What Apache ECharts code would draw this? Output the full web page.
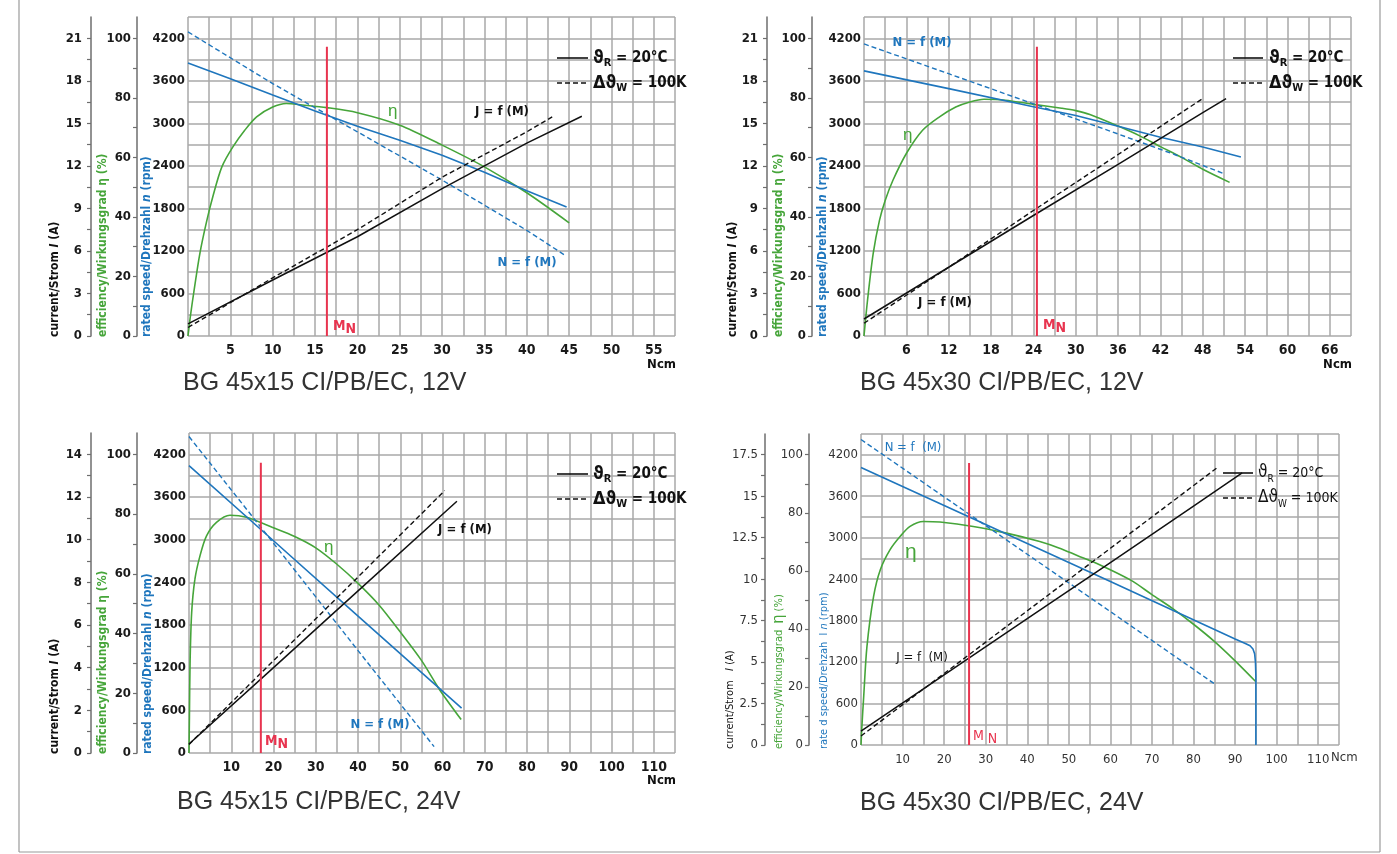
<!DOCTYPE html>
<html><head><meta charset="utf-8">
<script src="https://cdn.jsdelivr.net/npm/echarts@6/dist/echarts.min.js"></script>
<style>html,body{margin:0;padding:0;background:#fff}#c{width:1397px;height:854px}</style>
</head><body><div id="c"></div>
<script>
// ---------- DATA (torque Ncm -> speed rpm / current A / efficiency %) ----------
// Panel 1: BG 45x15 CI/PB/EC, 12V
const p1Speed      = [[0,3850],[5,3630],[10,3400],[15,3175],[20,2960],[25,2760],[30,2550],[35,2310],[40,2050],[44.7,1820]];
const p1SpeedHot   = [[0,4290],[10,3560],[20,2880],[30,2200],[40,1490],[44.5,1140]];
const p1Current    = [[0,0.85],[10,3.95],[20,7.0],[30,10.4],[40,13.6],[46.5,15.5]];
const p1CurrentHot = [[0,0.6],[10,4.1],[20,7.5],[30,11.2],[40,14.4],[43,15.45]];
const p1Eff        = [[0,0],[0.3,7],[0.7,15],[1.4,27.7],[2.2,38.5],[3,47.5],[4,56.8],[5.3,63.5],[6.7,69.1],[8.1,73.6],[10,76.9],[11.6,78.1],[13.5,77.6],[16.4,76.7],[20,75],[25,70.8],[30,64.1],[35,56.8],[40,48.1],[45,38]];
const p1Rated      = [[16.4,0],[16.4,4080]];
// Panel 2: BG 45x30 CI/PB/EC, 12V
const p2Speed      = [[0,3740],[12,3490],[24,3235],[30,3110],[36,2960],[42,2805],[48,2665],[53.4,2525]];
const p2SpeedHot   = [[0,4120],[12,3700],[24,3275],[36,2850],[44,2560],[51,2290]];
const p2Current    = [[0,1.2],[12,4.85],[24,8.5],[36,12.1],[48,15.75],[51.3,16.75]];
const p2CurrentHot = [[0,0.9],[12,4.85],[24,8.85],[36,12.8],[48,16.75]];
const p2Eff        = [[0,0],[0.5,12],[1.3,27.7],[2.2,38.9],[3,45.5],[4.1,52.3],[6,61.3],[8.3,69.1],[10.7,73.6],[13,76.9],[15,78.6],[17,79.5],[20,79.2],[24,77.8],[28,76.5],[30,75.7],[32,74.4],[36,70.5],[39,67.3],[42,63.6],[45,60],[48,56],[51.8,51.6]];
const p2Rated      = [[24.5,0],[24.5,4080]];
// Panel 3: BG 45x15 CI/PB/EC, 24V
const p3Speed      = [[0,4040],[20,2985],[40,1925],[64.5,630]];
const p3SpeedHot   = [[0,4450],[20,2950],[40,1440],[58,90]];
const p3Current    = [[0,0.42],[20,4.0],[40,7.6],[63.4,11.8]];
const p3CurrentHot = [[0,0.4],[20,4.33],[40,8.25],[60.5,12.3]];
const p3Eff        = [[0,0],[0.1,12],[0.25,30],[0.63,47],[1.4,58.2],[2.6,66],[4.15,72.7],[6.5,77.2],[9.7,79.6],[13.6,78.9],[19.8,75.5],[25,72.5],[30,68.7],[35,63.2],[40,56.8],[45,49.5],[49.5,41.4],[55,31],[59.3,21.2],[64.4,11.2]];
const p3Rated      = [[17,0],[17,4080]];
// Panel 4: BG 45x30 CI/PB/EC, 24V
const p4Speed      = [[0,4015],[20,3465],[40,2915],[60,2365],[75,1950],[90,1535],[92.6,1465],[93.6,1435],[94.3,1390],[94.7,1320],[94.9,1200],[95,1000],[95,0]];
const p4SpeedHot   = [[0,4420],[20,3590],[40,2760],[60,1930],[85.4,870]];
const p4Current    = [[0,0.84],[20,4.23],[40,7.62],[60,11.0],[80,14.4],[91.7,16.4]];
const p4CurrentHot = [[0,0.54],[20,4.31],[40,8.09],[60,11.86],[85.6,16.7]];
const p4Eff        = [[0,0],[0.2,6],[0.65,16.7],[1.43,33.9],[3.03,51.2],[4.65,60.4],[7,67.3],[9.45,71.9],[11.8,75.3],[15,77],[19,76.8],[27,75.3],[35,73],[43,70.1],[47.6,67.9],[52,65.3],[57.4,62.1],[65,56.7],[70,51.8],[75,47],[80,41.6],[85,35.7],[90,29],[95,21.8]];
const p4Rated      = [[26,0],[26,4080]];

// tick label settings (value steps)
const titles = ['BG 45x15 CI/PB/EC, 12V','BG 45x30 CI/PB/EC, 12V','BG 45x15 CI/PB/EC, 24V','BG 45x30 CI/PB/EC, 24V'];
const xLabelSteps   = [5, 6, 10, 10];
const xGridSteps    = [2.5, 3, 5, 5];
const xMaxima       = [57.5, 69, 115, 115];
const currentLabelSteps = [3, 3, 2, 2.5];
const currentTopLabels  = [21, 21, 14, 17.5];   // current value at the 4200 rpm line
const speedLabelStep = 600, speedTopLabel = 4200, speedMax = 4500;
const effLabelStep = 20, effTopLabel = 100;

// ---------- STYLE / LAYOUT ----------
const FONT = '"DejaVu Sans Condensed","Liberation Sans Narrow","Arial Narrow",sans-serif';
const SFONT = '"Liberation Sans",Arial,Helvetica,sans-serif';
const BLUE = '#1f76bd', GREEN = '#46a53a', RED = '#e8344f', BLACK = '#111111';
const GRIDC = '#a9a9a9', AXC = '#6e6e6e';

const layout = [
  {g:[188,17,487,319], offE:51, offC:97, light:false, tx:[55,103,147], tb:337},
  {g:[864,17,487,319], offE:52, offC:97, light:false, tx:[733,779,823], tb:337},
  {g:[189,433,486,320], offE:52, offC:98, light:false, tx:[55,103,148], tb:754},
  {g:[861,434,478,311], offE:52, offC:96, light:true,  tx:[730,779,824], tb:749}
];
const panelData = [
  [p1Speed,p1SpeedHot,p1Current,p1CurrentHot,p1Eff,p1Rated],
  [p2Speed,p2SpeedHot,p2Current,p2CurrentHot,p2Eff,p2Rated],
  [p3Speed,p3SpeedHot,p3Current,p3CurrentHot,p3Eff,p3Rated],
  [p4Speed,p4SpeedHot,p4Current,p4CurrentHot,p4Eff,p4Rated]
];

function fmtStep(step, maxV, skipZero){
  return function(v){
    const k = v/step;
    if (Math.abs(k-Math.round(k))>1e-6) return '';
    if (v>maxV+1e-6) return '';
    if (skipZero && Math.abs(v)<1e-9) return '';
    return String(Math.round(v*100)/100);
  };
}
function range(a,b,s){const r=[];for(let v=a;v<=b+1e-9;v+=s)r.push(Math.round(v*1000)/1000);return r;}

const grid=[], xAxis=[], yAxis=[], series=[];
layout.forEach((p,i)=>{
  const lab = {fontFamily:FONT, fontSize:13, fontWeight:p.light?'normal':'bold', color:p.light?'#333':'#1a1a1a'};
  const xlab = Object.assign({}, lab, {fontSize:p.light?13:14});
  const effMax = effTopLabel*speedMax/speedTopLabel;
  const cTop = currentTopLabels[i];
  const cMax = cTop*speedMax/speedTopLabel;
  const cStep = currentLabelSteps[i]/2;
  grid.push({left:p.g[0], top:p.g[1], width:p.g[2], height:p.g[3], containLabel:false, outerBoundsMode:'none'});
  xAxis.push({type:'value', gridIndex:i, min:0, max:xMaxima[i], interval:xGridSteps[i],
    axisLine:{show:false}, axisTick:{show:false},
    axisLabel:Object.assign({}, xlab, {margin:p.light?8:7, formatter:fmtStep(xLabelSteps[i], xMaxima[i], true)}),
    splitLine:{show:true, lineStyle:{color:GRIDC, width:1.5}}});
  yAxis.push({type:'value', gridIndex:i, position:'left', min:0, max:speedMax, interval:300,
    axisLine:{show:false}, axisTick:{show:false},
    axisLabel:Object.assign({}, lab, {margin:3, formatter:fmtStep(speedLabelStep, speedTopLabel, false)}),
    splitLine:{show:true, lineStyle:{color:GRIDC, width:1.5}}});
  yAxis.push({type:'value', gridIndex:i, position:'left', offset:p.offE, min:0, max:effMax, interval:10,
    axisLine:{show:true, lineStyle:{color:AXC, width:1.5}},
    axisTick:{show:true, length:4, lineStyle:{color:AXC, width:1.2}, customValues:range(0,100,10)},
    axisLabel:Object.assign({}, lab, {margin:6, formatter:fmtStep(effLabelStep, effTopLabel, false)}),
    splitLine:{show:false}});
  yAxis.push({type:'value', gridIndex:i, position:'left', offset:p.offC, min:0, max:cMax, interval:cStep,
    axisLine:{show:true, lineStyle:{color:AXC, width:1.5}},
    axisTick:{show:true, length:4, lineStyle:{color:AXC, width:1.2}, customValues:range(0,cTop,cStep)},
    axisLabel:Object.assign({}, lab, {margin:p.light?7:9, formatter:fmtStep(currentLabelSteps[i], cTop, false)}),
    splitLine:{show:false}});
  const d = panelData[i];
  const mk = (yi, data, color, dash, smooth, w, z) => ({type:'line', xAxisIndex:i, yAxisIndex:3*i+yi, data:data,
      showSymbol:false, symbol:'none', smooth:smooth||false, silent:true, animation:false, z:z||2,
      lineStyle:{color:color, width:w||1.6, type:dash?[5,3]:'solid'}});
  series.push(mk(1, d[4], GREEN, false, 0.3, 1.6, 2));
  series.push(mk(0, d[0], BLUE, false, false, 1.6, 3));
  series.push(mk(0, d[1], BLUE, true, false, 1.4, 3));
  series.push(mk(2, d[2], BLACK, false, false, 1.5, 3));
  series.push(mk(2, d[3], BLACK, true, false, 1.4, 3));
  series.push(mk(0, d[5], RED, false, false, 2, 4));
});

// ---------- GRAPHIC TEXT / DECORATION ----------
const G = [];
function T(x,y,text,o){
  o=o||{};
  const st = Object.assign({text:text, fill:o.fill||'#111', fontFamily:o.ff||FONT, fontSize:o.fs||14, fontWeight:o.fw||'bold',
    align:o.al||'left', verticalAlign:'middle', textAlign:o.al||'left', textVerticalAlign:'middle'}, o.style||{});
  if (o.rich) st.rich = o.rich;
  G.push({type:'text', x:x, y:y, rotation:o.rot||0, silent:true, z:100, style:st});
}
function Ln(x1,y1,x2,y2,color,w,dash){
  G.push({type:'line', silent:true, z:100, shape:{x1,y1,x2,y2}, style:{stroke:color, lineWidth:w, lineDash:dash||null}});
}
// frame
Ln(19,0,19,852,'#9a9a9a',1.2); Ln(19,852,1380,852,'#9a9a9a',1.2); Ln(1380,0,1380,852,'#9a9a9a',1.2);

// subtitles
T(183,383,titles[0],{ff:SFONT,fs:25,fw:'normal',fill:'#333'});
T(860,383,titles[1],{ff:SFONT,fs:25,fw:'normal',fill:'#333'});
T(177,802,titles[2],{ff:SFONT,fs:25,fw:'normal',fill:'#333'});
T(860,803,titles[3],{ff:SFONT,fs:25,fw:'normal',fill:'#333'});

// rotated axis titles
const R90 = Math.PI/2;
function axisTitles(xc, xe, xs, yb, light){
  const fw = light?'normal':'bold', fs = light?11:12;
  const it = {fontStyle:'italic', fontFamily:FONT, fontSize:fs, fontWeight:fw};
  T(xc,yb, light?'current/Strom   {i|I} (A)':'current/Strom {i|I} (A)', {rot:R90, fs:fs, fw:fw, fill:'#111', rich:{i:Object.assign({fill:'#111'},it)}});
  T(xe,yb, light?'efficiency/Wirkungsgrad  {e|η} (%)':'efficiency/Wirkungsgrad η (%)', {rot:R90, fs:fs, fw:fw, fill:GREEN,
     rich:{e:{fontFamily:SFONT, fontSize:light?16:fs, fill:GREEN}}});
  T(xs,yb, light?'rate d speed/Drehzah  l {i|n} (rpm)':'rated speed/Drehzahl {i|n} (rpm)', {rot:R90, fs:fs, fw:fw, fill:BLUE, rich:{i:Object.assign({fill:BLUE},it)}});
}
layout.forEach(p=>axisTitles(p.tx[0],p.tx[1],p.tx[2],p.tb,p.light));

// Ncm units
T(676,365,'Ncm',{al:'right',fs:13});
T(1352,365,'Ncm',{al:'right',fs:13});
T(676,781,'Ncm',{al:'right',fs:13});
T(1331,758,'Ncm',{al:'left',fs:13,fw:'normal',fill:'#333'});

// legends
function legend(x1,x2,xt,y1,y2,light){
  const fw = light?'normal':'bold', fs = light?14:15;
  Ln(x1,y1,x2,y1,'#111',1.6); Ln(x1,y2,x2,y2,'#111',1.6,[5,3]);
  const rich = {t:{fontFamily:FONT,fontSize:fs,fontWeight:fw,fill:'#111',lineHeight:22},
                g:{fontFamily:FONT,fontSize:fs+3,fontWeight:fw,fill:'#111',lineHeight:22},
                s:{fontFamily:FONT,fontSize:light?10:11,fontWeight:fw,fill:'#111',lineHeight:11,verticalAlign:'bottom'}};
  T(xt,y1,'{g|ϑ}{s|R}{t| = 20°C}',{rich:rich});
  T(xt,y2,'{g|Δϑ}{s|W}{t| = 100K}',{rich:rich});
}
legend(557,588,593,58,83,false);
legend(1233,1263,1269,58,83,false);
legend(557,588,593,474,499,false);
legend(1223,1253,1258,473,498,true);

// curve annotations
const mnRich = (light)=>({m:{fontFamily:FONT,fontSize:14,fontWeight:light?'normal':'bold',fill:RED,lineHeight:20},
                    n:{fontFamily:FONT,fontSize:14,fontWeight:light?'normal':'bold',fill:RED,lineHeight:14,verticalAlign:'bottom'}});
T(388,111,'η',{ff:SFONT,fs:17,fw:'normal',fill:GREEN});
T(502,112,'J = f (M)',{al:'center',fs:13});
T(527,263,'N = f (M)',{al:'center',fs:13,fill:BLUE});
T(333,326,'{m|M}{n|N}',{rich:mnRich(false)});

T(922,43,'N = f (M)',{al:'center',fs:13,fill:BLUE});
T(903,135,'η',{ff:SFONT,fs:17,fw:'normal',fill:GREEN});
T(945,303,'J = f (M)',{al:'center',fs:13});
T(1043,325,'{m|M}{n|N}',{rich:mnRich(false)});

T(324,547,'η',{ff:SFONT,fs:17,fw:'normal',fill:GREEN});
T(465,530,'J = f (M)',{al:'center',fs:13});
T(380,725,'N = f (M)',{al:'center',fs:13,fill:BLUE});
T(265,741,'{m|M}{n|N}',{rich:mnRich(false)});

T(913,448,'N = f  (M)',{al:'center',fs:13,fw:'normal',fill:BLUE});
T(905,552,'η',{ff:SFONT,fs:21,fw:'normal',fill:GREEN});
T(922,658,'J = f  (M)',{al:'center',fs:13,fw:'normal'});
T(973,736,'{m|M}{m| }{n|N}',{rich:mnRich(true)});

const chart = echarts.init(document.getElementById('c'), null, {renderer:'canvas'});
chart.setOption({backgroundColor:'#ffffff', animation:false, grid, xAxis, yAxis, series, graphic:{elements:G}});
</script></body></html>
